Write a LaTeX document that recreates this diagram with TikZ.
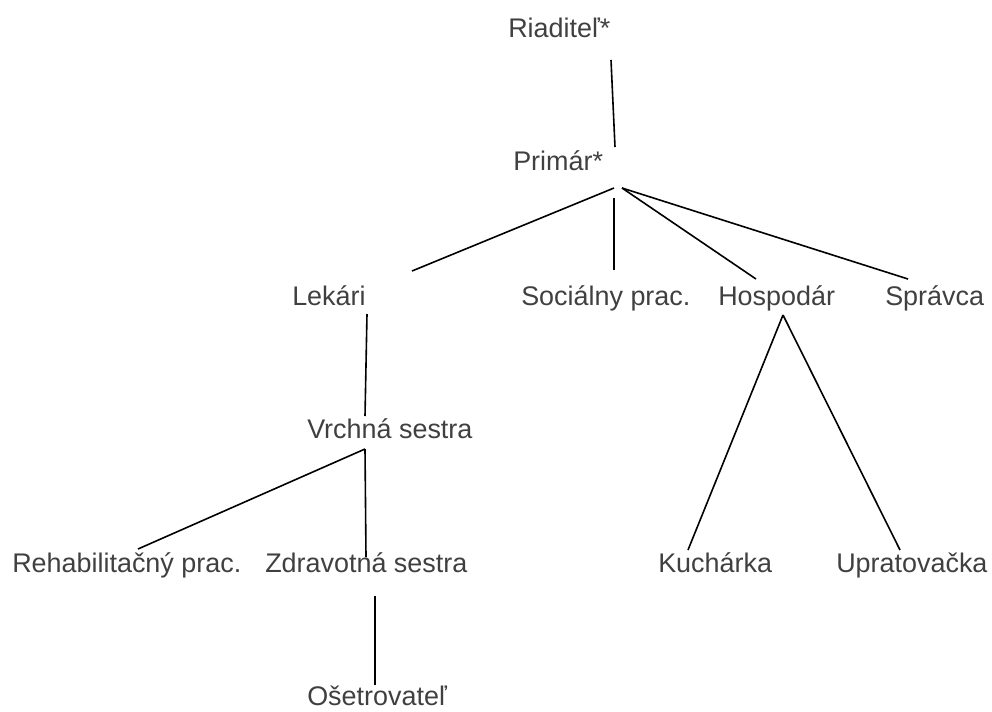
\documentclass[tikz,border=0pt]{standalone}
\usepackage{fontspec}
\setmainfont{Liberation Sans}
\usepackage{xcolor}
\definecolor{txtgray}{HTML}{404040}

\begin{document}
\begin{tikzpicture}[x=0.75pt,y=-0.75pt,font=\fontsize{20.2}{24}\selectfont,
    role/.style={anchor=base west,inner sep=0pt,text=txtgray},
    link/.style={black,line width=1.2pt}]
  \useasboundingbox (0,0) rectangle (992,711);
  % staff titles, one row per level
  \node[role] (riad) at (508,37) {Riaditeľ*};
  \node[role] (prim) at (513,170) {Primár*};
  \node[role] (lek)  at (292,305) {Lekári};
  \node[role] (soc)  at (521,305) {Sociálny prac.};
  \node[role] (hosp) at (718,305) {Hospodár};
  \node[role] (spr)  at (885,305) {Správca};
  \node[role] (vrch) at (307,438) {Vrchná sestra};
  \node[role] (reh)  at (12,572)  {Rehabilitačný prac.};
  \node[role] (zdr)  at (265,572) {Zdravotná sestra};
  \node[role] (kuch) at (658,572) {Kuchárka};
  \node[role] (upr)  at (836,572) {Upratovačka};
  \node[role] (oset) at (307,705) {Ošetrovateľ};
  % line ends
  \coordinate (riad-s) at (611,60);
  \coordinate (prim-n) at (615,147);
  \coordinate (prim-sl) at (614,188);
  \coordinate (prim-sm) at (614,198);
  \coordinate (prim-sr) at (622,188);
  \coordinate (lek-n) at (412,271);
  \coordinate (soc-n) at (614,270);
  \coordinate (hosp-n) at (756,279);
  \coordinate (spr-n) at (908,279);
  \coordinate (lek-s) at (367,314);
  \coordinate (vrch-n) at (365,416);
  \coordinate (vrch-s) at (365,449);
  \coordinate (reh-n) at (138,549);
  \coordinate (zdr-n) at (366,557);
  \coordinate (zdr-s) at (375,596);
  \coordinate (oset-n) at (375,685);
  \coordinate (hosp-s) at (783,315);
  \coordinate (kuch-n) at (688,550);
  \coordinate (upr-n) at (900,550);
  % connectors
  \foreach \a/\b in {riad-s/prim-n,prim-sl/lek-n,prim-sm/soc-n,prim-sr/hosp-n,
      prim-sr/spr-n,lek-s/vrch-n,vrch-s/reh-n,vrch-s/zdr-n,zdr-s/oset-n,
      hosp-s/kuch-n,hosp-s/upr-n}
    \draw[link] (\a) -- (\b);
\end{tikzpicture}
\end{document}
